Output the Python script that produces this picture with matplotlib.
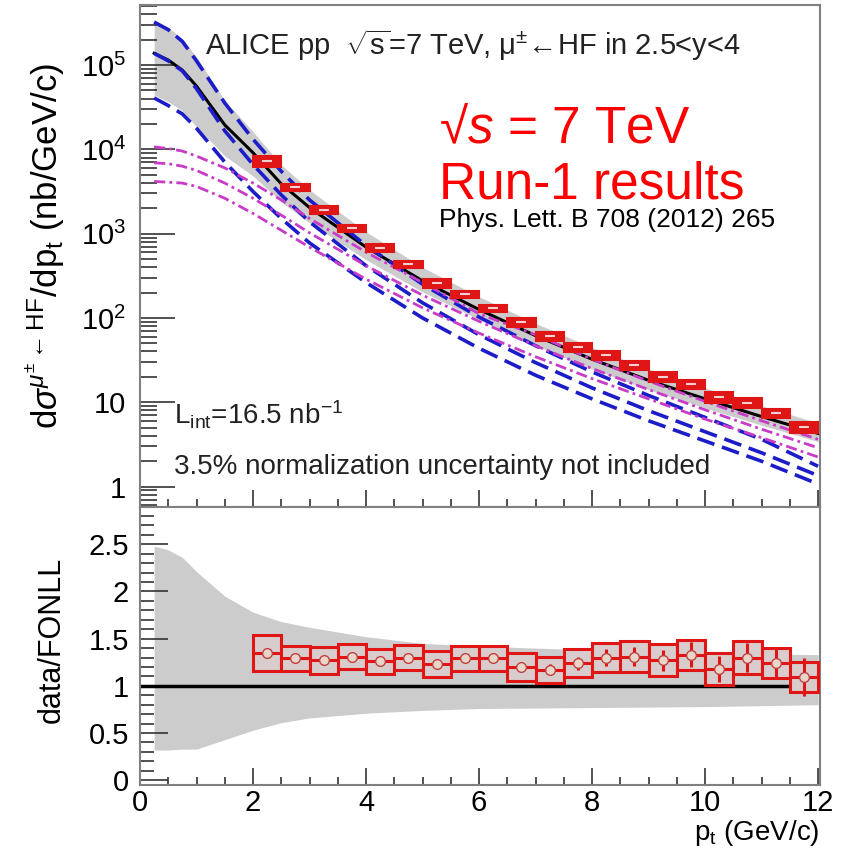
import numpy as np
import matplotlib
matplotlib.use("Agg")
import matplotlib.pyplot as plt
from matplotlib.patches import Rectangle
from matplotlib.ticker import LogLocator, MultipleLocator, FixedLocator, NullFormatter

plt.rcParams['font.family'] = ['Liberation Sans', 'DejaVu Sans']
plt.rcParams['mathtext.fontset'] = 'custom'
plt.rcParams['mathtext.rm'] = 'Liberation Sans'
plt.rcParams['mathtext.it'] = 'Liberation Sans:italic'
plt.rcParams['mathtext.bf'] = 'Liberation Sans:bold'

# measured bins (pt bin centres, 0.5 GeV/c wide)
pt = [2.25, 2.75, 3.25, 3.75, 4.25, 4.75, 5.25, 5.75, 6.25, 6.75,
      7.25, 7.75, 8.25, 8.75, 9.25, 9.75, 10.25, 10.75, 11.25, 11.75]
xsec = [7260, 3570, 1905, 1165, 675, 436, 259, 192, 131, 89,
        61, 45, 36, 27.6, 19.9, 16.4, 11.5, 9.8, 7.4, 5.1]
ratio = [1.35, 1.29, 1.27, 1.31, 1.26, 1.30, 1.23, 1.29, 1.29, 1.20,
         1.17, 1.24, 1.30, 1.31, 1.27, 1.33, 1.18, 1.30, 1.24, 1.09]
ratio_sys = [0.19, 0.13, 0.14, 0.13, 0.13, 0.13, 0.14, 0.13, 0.13, 0.15,
             0.14, 0.15, 0.15, 0.16, 0.17, 0.16, 0.17, 0.17, 0.16, 0.16]
ratio_stat = [0.01, 0.01, 0.01, 0.01, 0.02, 0.02, 0.02, 0.03, 0.04, 0.05,
              0.06, 0.07, 0.09, 0.10, 0.11, 0.13, 0.14, 0.15, 0.16, 0.20]

# FONLL curves (log10 of nb/GeV/c)
pt_th = [0.25, 0.5, 0.75, 1.0, 1.5, 2.0, 2.5, 3.0, 4.0, 5.0, 6.0, 7.0, 8.0, 9.0, 10.0, 11.0, 12.0]
fonll = [5.14, 5.06, 4.94, 4.75, 4.29, 3.96, 3.59, 3.31, 2.84, 2.44, 2.10, 1.79, 1.51, 1.26, 1.04, 0.83, 0.63]
band_hi = [2.48, 2.44, 2.36, 2.21, 1.95, 1.78, 1.68, 1.62, 1.52, 1.45, 1.42, 1.40, 1.38, 1.36, 1.35, 1.34, 1.33]
band_lo = [0.32, 0.32, 0.33, 0.33, 0.43, 0.53, 0.61, 0.66, 0.71, 0.74, 0.76, 0.765, 0.77, 0.775, 0.78, 0.79, 0.80]
charm_hi = [5.51, 5.42, 5.28, 5.05, 4.55, 4.12, 3.74, 3.40, 2.86, 2.40, 2.01, 1.67, 1.36, 1.08, 0.82, 0.56, 0.24]
charm = [5.14, 5.05, 4.93, 4.72, 4.22, 3.82, 3.46, 3.14, 2.62, 2.18, 1.80, 1.47, 1.17, 0.90, 0.65, 0.40, 0.13]
charm_lo = [4.61, 4.52, 4.42, 4.25, 3.85, 3.50, 3.18, 2.89, 2.42, 2.00, 1.64, 1.32, 1.04, 0.78, 0.54, 0.30, 0.03]
beauty_hi = [4.03, 4.01, 3.98, 3.92, 3.78, 3.60, 3.40, 3.18, 2.78, 2.42, 2.05, 1.80, 1.51, 1.25, 1.01, 0.78, 0.56]
beauty = [3.84, 3.83, 3.80, 3.75, 3.60, 3.42, 3.22, 3.01, 2.62, 2.27, 1.96, 1.67, 1.40, 1.15, 0.91, 0.68, 0.46]
beauty_lo = [3.62, 3.61, 3.60, 3.56, 3.42, 3.24, 3.04, 2.84, 2.46, 2.12, 1.82, 1.54, 1.28, 1.04, 0.80, 0.58, 0.35]

pt = np.array(pt)
xsec = np.array(xsec)
ratio = np.array(ratio)
ratio_sys = np.array(ratio_sys)
ratio_stat = np.array(ratio_stat)
fonll_v = 10**np.array(fonll)

RED = '#e01515'
BLUE = '#1c1cc8'
MAG = '#c83cc8'
GREY = '#cccccc'
FRAME = '#808080'

fig = plt.figure(figsize=(8.46, 8.5), dpi=100)
ax1 = fig.add_axes([0.1655, 0.4035, 0.8035, 0.5905])
ax2 = fig.add_axes([0.1655, 0.0765, 0.8035, 0.327])

# ---- upper panel: cross section
ax1.set_yscale('log')
ax1.fill_between(pt_th, fonll_v*np.array(band_lo), fonll_v*np.array(band_hi),
                 color=GREY, lw=0, zorder=1)
for c in (charm_hi, charm, charm_lo):
    ax1.plot(pt_th, 10**np.array(c), color=BLUE, lw=2.6, ls=(0, (5, 2.2)), zorder=3)
for b in (beauty_hi, beauty, beauty_lo):
    ax1.plot(pt_th, 10**np.array(b), color=MAG, lw=2.0, ls=(0, (4, 1.5, 1, 1.5)), zorder=3)
ax1.plot(pt_th, fonll_v, color='black', lw=2.2, zorder=2)

rel = ratio_sys/ratio
for x, v, r in zip(pt, xsec, rel):
    ax1.add_patch(Rectangle((x-0.25, v*(1-r)), 0.5, 2*v*r, facecolor=RED,
                            edgecolor=RED, lw=1.5, zorder=5))
ax1.plot(pt, xsec, ls='none', marker='_', ms=7, mew=1.5, color='#f4d0d0', zorder=6)

ax1.set_xlim(0, 12.03)
ax1.set_ylim(0.571, 5.15e5)
ax1.yaxis.set_major_locator(FixedLocator([1, 10, 1e2, 1e3, 1e4, 1e5]))
ax1.yaxis.set_minor_locator(LogLocator(base=10, subs=np.arange(2, 10)))
ax1.yaxis.set_minor_formatter(NullFormatter())
ax1.set_yticklabels(['1', '10', r'10$^{2}$', r'10$^{3}$', r'10$^{4}$', r'10$^{5}$'])
ax1.xaxis.set_major_locator(MultipleLocator(2))
ax1.xaxis.set_minor_locator(MultipleLocator(0.5))
ax1.tick_params(axis='x', which='both', labelbottom=False)
ax1.tick_params(axis='y', which='major', labelsize=21, length=25, pad=10)
ax1.tick_params(axis='y', which='minor', length=12)
ax1.tick_params(axis='x', which='major', length=12)
ax1.tick_params(axis='x', which='minor', length=6)
ax1.set_ylabel(r'd$\sigma^{\mu^{\pm}\leftarrow\mathrm{HF}}$/dp$_{\mathrm{t}}$ (nb/GeV/c)', fontsize=25)
ax1.yaxis.set_label_coords(-0.108, 0.52)

ax1.text(0.095, 0.92, r'ALICE pp  $\sqrt{\mathrm{s}}$=7 TeV, $\mathrm{\mu^{\pm}}$' + '\u2190HF in 2.5<y<4',
         transform=ax1.transAxes, fontsize=21, color='#222222', va='center')
ax1.text(0.44, 0.751, '\u221a$\\it{s}$ = 7 TeV', transform=ax1.transAxes,
         fontsize=37, color='red', va='center')
ax1.text(0.44, 0.641, 'Run-1 results', transform=ax1.transAxes,
         fontsize=37, color='red', va='center')
ax1.text(0.44, 0.572, 'Phys. Lett. B 708 (2012) 265', transform=ax1.transAxes,
         fontsize=19, color='black', va='center')
ax1.text(0.05, 0.183, r'L$_{\mathrm{int}}$=16.5 nb$^{-1}$', transform=ax1.transAxes,
         fontsize=20, color='#222222', va='center')
ax1.text(0.05, 0.08, '3.5% normalization uncertainty not included', transform=ax1.transAxes,
         fontsize=20, color='#222222', va='center')

# ---- lower panel: data / FONLL
ax2.fill_between(pt_th, band_lo, band_hi, color=GREY, lw=0, zorder=1)
ax2.axhline(1, color='black', lw=2.5, zorder=2)
for x, r, s in zip(pt, ratio, ratio_sys):
    ax2.add_patch(Rectangle((x-0.25, r-s), 0.5, 2*s, facecolor='#d8cccc',
                            edgecolor=RED, lw=2.2, zorder=4))
ax2.errorbar(pt, ratio, xerr=0.25, yerr=ratio_stat, fmt='o', ms=7, mfc='#ead6c8',
             mec='#c04040', mew=1.0, ecolor=RED, elinewidth=2.2, capsize=0, zorder=5)

ax2.set_xlim(0, 12.03)
ax2.set_ylim(-0.05, 2.894)
ax2.xaxis.set_major_locator(MultipleLocator(2))
ax2.xaxis.set_minor_locator(MultipleLocator(0.5))
ax2.yaxis.set_major_locator(FixedLocator([0, 0.5, 1, 1.5, 2, 2.5]))
ax2.yaxis.set_minor_locator(MultipleLocator(0.1))
ax2.set_yticklabels(['0', '0.5', '1', '1.5', '2', '2.5'])
ax2.tick_params(axis='both', which='major', labelsize=21)
ax2.tick_params(axis='y', which='major', length=20, pad=8)
ax2.tick_params(axis='y', which='minor', length=10)
ax2.tick_params(axis='x', which='major', length=12, pad=3)
ax2.tick_params(axis='x', which='minor', length=6)
ax2.set_ylabel('data/FONLL', fontsize=22)
ax2.yaxis.set_label_coords(-0.108, 0.523)
ax2.set_xlabel(r'p$_{\mathrm{t}}$ (GeV/c)', fontsize=20)
ax2.xaxis.set_label_coords(1.0, -0.118)
ax2.xaxis.label.set_horizontalalignment('right')

for ax in (ax1, ax2):
    ax.tick_params(which='both', direction='in', color='#333333', width=1.2)
    for sp in ax.spines.values():
        sp.set_color(FRAME)
        sp.set_linewidth(1.5)

fig.savefig('out.png', dpi=100)
